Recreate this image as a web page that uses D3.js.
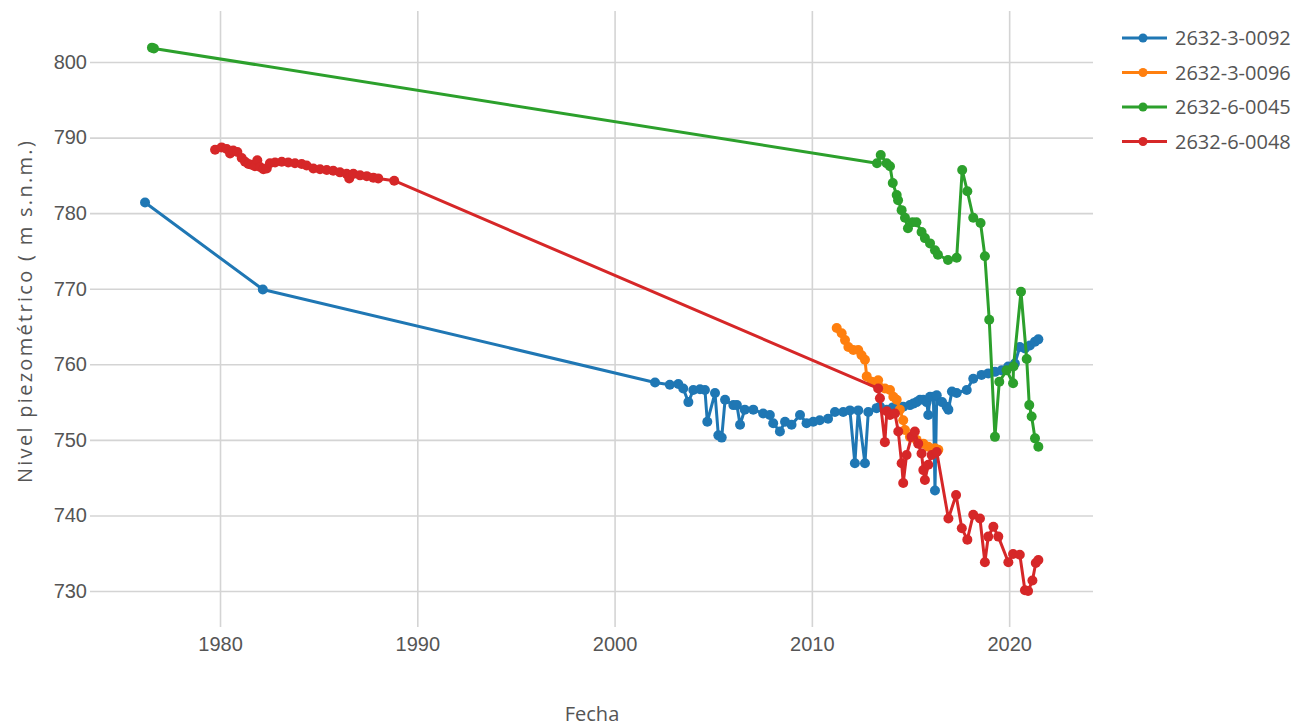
<!DOCTYPE html>
<html>
<head>
<meta charset="utf-8">
<script src="https://cdn.jsdelivr.net/npm/d3@7"></script>
<style>
  body { margin: 0; background: #fff; }
  svg { display: block; font-family: "Open Sans", "Noto Sans", sans-serif; }
</style>
</head>
<body>
<svg id="chart" width="1301" height="726"></svg>
<script>
// ---- Data (decimal year, m s.n.m.) ----
const seriesNames = ["2632-3-0092", "2632-3-0096", "2632-6-0045", "2632-6-0048"];
const seriesColors = ["#1f77b4", "#ff7f0e", "#2ca02c", "#d62728"];

const years0092 = [1976.2, 1982.17, 2002.05, 2002.8, 2003.23, 2003.48, 2003.74, 2003.99, 2004.33, 2004.58, 2004.7, 2005.09, 2005.26, 2005.43, 2005.6, 2006.02, 2006.2, 2006.36, 2006.6, 2007.03, 2007.53, 2007.87, 2008.04, 2008.38, 2008.64, 2008.97, 2009.4, 2009.73, 2010.07, 2010.4, 2010.82, 2011.17, 2011.59, 2011.93, 2012.18, 2012.35, 2012.69, 2012.86, 2013.28, 2013.45, 2013.8, 2014.1, 2014.4, 2014.63, 2014.97, 2015.14, 2015.31, 2015.48, 2015.65, 2015.82, 2015.9, 2015.99, 2016.16, 2016.24, 2016.33, 2016.6, 2016.83, 2016.92, 2017.1, 2017.34, 2017.85, 2018.18, 2018.6, 2018.94, 2019.28, 2019.62, 2019.95, 2020.29, 2020.54, 2020.8, 2021.05, 2021.31, 2021.48];
const values0092 = [781.4, 769.9, 757.6, 757.3, 757.4, 756.8, 755.0, 756.6, 756.7, 756.6, 752.4, 756.2, 750.6, 750.3, 755.3, 754.6, 754.6, 752.0, 754.0, 754.0, 753.5, 753.3, 752.2, 751.1, 752.4, 752.0, 753.3, 752.2, 752.4, 752.6, 752.8, 753.7, 753.7, 753.9, 746.9, 753.9, 746.9, 753.7, 754.2, 754.4, 754.0, 754.3, 754.2, 754.4, 754.6, 754.8, 755.0, 755.3, 755.3, 755.0, 753.3, 755.7, 755.7, 743.3, 755.9, 755.0, 754.4, 754.0, 756.4, 756.2, 756.6, 758.1, 758.6, 758.8, 759.0, 759.2, 759.7, 760.1, 762.3, 762.1, 762.5, 763.0, 763.3];

const years0096 = [2011.26, 2011.51, 2011.68, 2011.85, 2012.1, 2012.35, 2012.52, 2012.69, 2012.78, 2013.03, 2013.36, 2013.7, 2013.96, 2014.13, 2014.3, 2014.46, 2014.63, 2014.72, 2014.97, 2015.31, 2015.65, 2015.9, 2016.24, 2016.41];
const values0096 = [764.8, 764.1, 763.2, 762.3, 761.9, 761.9, 761.2, 760.6, 758.4, 757.7, 757.9, 756.8, 756.6, 755.7, 755.3, 754.0, 752.6, 751.3, 750.4, 750.0, 749.5, 749.1, 748.9, 748.7];

const years0045 = [1976.55, 1976.65, 2013.3, 2013.49, 2013.79, 2013.96, 2014.1, 2014.3, 2014.37, 2014.55, 2014.72, 2014.87, 2015.1, 2015.3, 2015.56, 2015.73, 2015.99, 2016.24, 2016.39, 2016.9, 2017.34, 2017.62, 2017.88, 2018.18, 2018.55, 2018.77, 2018.99, 2019.28, 2019.5, 2019.87, 2020.2, 2020.22, 2020.6, 2020.89, 2021.02, 2021.14, 2021.31, 2021.48];
const values0045 = [801.9, 801.8, 786.6, 787.7, 786.6, 786.2, 784.0, 782.4, 781.7, 780.4, 779.4, 778.0, 778.8, 778.8, 777.5, 776.7, 776.0, 775.1, 774.5, 773.8, 774.1, 785.7, 782.9, 779.4, 778.7, 774.3, 765.9, 750.4, 757.7, 759.2, 757.5, 759.7, 769.6, 760.7, 754.6, 753.1, 750.2, 749.1];

const years0048 = [1979.75, 1980.08, 1980.34, 1980.51, 1980.67, 1980.88, 1981.1, 1981.27, 1981.44, 1981.6, 1981.77, 1981.89, 1982.03, 1982.2, 1982.37, 1982.53, 1982.79, 1983.13, 1983.46, 1983.8, 1984.14, 1984.39, 1984.73, 1985.07, 1985.41, 1985.74, 1986.08, 1986.42, 1986.55, 1986.76, 1987.1, 1987.44, 1987.77, 1988.02, 1988.83, 2013.36, 2013.45, 2013.7, 2013.8, 2013.96, 2014.21, 2014.38, 2014.55, 2014.63, 2014.8, 2015.05, 2015.22, 2015.39, 2015.56, 2015.65, 2015.73, 2015.9, 2016.07, 2016.33, 2016.92, 2017.31, 2017.6, 2017.88, 2018.18, 2018.52, 2018.77, 2018.94, 2019.2, 2019.45, 2019.96, 2020.2, 2020.54, 2020.8, 2020.96, 2021.18, 2021.35, 2021.48];
const values0048 = [788.4, 788.7, 788.5, 787.9, 788.3, 788.1, 787.3, 786.8, 786.5, 786.4, 786.2, 787.0, 786.1, 785.8, 785.9, 786.6, 786.7, 786.8, 786.7, 786.6, 786.5, 786.3, 785.9, 785.8, 785.7, 785.6, 785.4, 785.2, 784.6, 785.2, 785.0, 784.9, 784.7, 784.6, 784.3, 756.8, 755.5, 749.7, 753.8, 753.3, 753.5, 751.1, 746.9, 744.3, 748.0, 750.4, 751.1, 749.5, 748.2, 746.0, 744.7, 746.7, 748.0, 748.4, 739.6, 742.7, 738.3, 736.8, 740.1, 739.6, 733.8, 737.2, 738.5, 737.2, 733.8, 734.9, 734.8, 730.1, 730.0, 731.4, 733.7, 734.1];

const xTicks = [1980, 1990, 2000, 2010, 2020];
const yTicks = [730, 740, 750, 760, 770, 780, 790, 800];
const xTitle = "Fecha";
const yTitle = "Nivel piezométrico ( m s.n.m.)";

// ---- Layout ----
const plot = { left: 90, right: 1093, top: 11, bottom: 627 };
const svg = d3.select("#chart");

const x = d3.scaleLinear().domain([1973.41, 2024.25]).range([plot.left, plot.right]);
const y = d3.scaleLinear().domain([725.24, 806.75]).range([plot.bottom, plot.top]);

const gridColor = "#d4d4d4";
const textColor = "#555";
const markR = 5;
const lineW = 3;

// X axis with vertical gridlines
const gx = svg.append("g")
  .attr("transform", `translate(0,${plot.bottom})`)
  .call(d3.axisBottom(x).tickValues(xTicks).tickFormat(d3.format("d"))
    .tickSizeInner(-(plot.bottom - plot.top)).tickSizeOuter(0).tickPadding(10));
gx.select(".domain").remove();
gx.selectAll(".tick line").attr("stroke", gridColor).attr("stroke-width", 1.6);
gx.selectAll(".tick text").attr("fill", textColor).style("font-size", "20px");

// Y axis with horizontal gridlines
const gy = svg.append("g")
  .attr("transform", `translate(${plot.left},0)`)
  .call(d3.axisLeft(y).tickValues(yTicks).tickFormat(d3.format("d"))
    .tickSizeInner(-(plot.right - plot.left)).tickSizeOuter(0).tickPadding(3));
gy.select(".domain").remove();
gy.selectAll(".tick line").attr("stroke", gridColor).attr("stroke-width", 1.6);
gy.selectAll(".tick text").attr("fill", textColor).style("font-size", "20px");

// Axis titles
svg.append("text")
  .attr("x", 592).attr("y", 721)
  .attr("text-anchor", "middle")
  .attr("fill", textColor)
  .style("font-size", "20px")
  .text(xTitle);

svg.append("text")
  .attr("transform", `translate(32,311) rotate(-90)`)
  .attr("text-anchor", "middle")
  .attr("fill", textColor)
  .style("font-size", "20px")
  .style("letter-spacing", "2.3px")
  .text(yTitle);

// Series
const allYears = [years0092, years0096, years0045, years0048];
const allValues = [values0092, values0096, values0045, values0048];

const line = d3.line().x(d => x(d[0])).y(d => y(d[1]));

const series = seriesNames.map((name, i) => ({
  name,
  color: seriesColors[i],
  points: allYears[i].map((yr, j) => [yr, allValues[i][j]])
}));

svg.append("clipPath").attr("id", "clip")
  .append("rect").attr("x", plot.left).attr("y", plot.top)
  .attr("width", plot.right - plot.left).attr("height", plot.bottom - plot.top);

const gs = svg.append("g").attr("clip-path", "url(#clip)");
series.forEach(s => {
  const g = gs.append("g");
  g.append("path")
    .datum(s.points)
    .attr("d", line)
    .attr("fill", "none")
    .attr("stroke", s.color)
    .attr("stroke-width", lineW)
    .attr("stroke-linejoin", "round");
  g.selectAll("circle")
    .data(s.points)
    .enter().append("circle")
    .attr("cx", d => x(d[0]))
    .attr("cy", d => y(d[1]))
    .attr("r", markR)
    .attr("fill", s.color);
});

// Legend
const legend = svg.append("g").attr("transform", "translate(1122,38)");
series.forEach((s, i) => {
  const row = legend.append("g").attr("transform", `translate(0,${i * 34.5})`);
  row.append("line").attr("x1", 0).attr("x2", 45).attr("y1", 0).attr("y2", 0)
    .attr("stroke", s.color).attr("stroke-width", lineW);
  row.append("circle").attr("cx", 21).attr("cy", 0).attr("r", 4.5).attr("fill", s.color);
  row.append("text").attr("x", 53).attr("y", 0).attr("dy", "0.35em")
    .attr("fill", textColor).style("font-size", "20px").text(s.name);
});
</script>
</body>
</html>
